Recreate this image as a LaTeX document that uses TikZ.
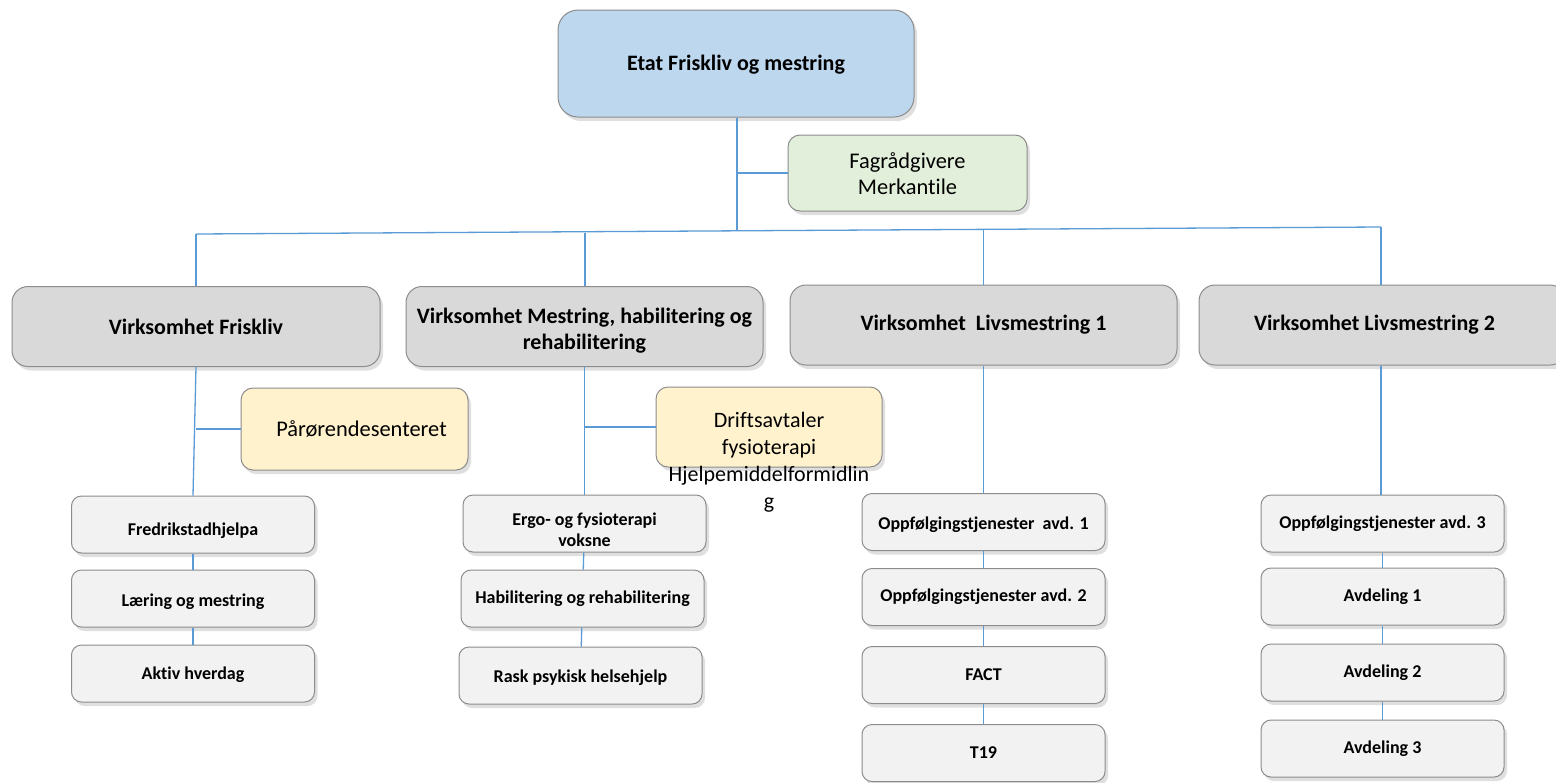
\documentclass[tikz,border=0pt]{standalone}
\usepackage{fontspec}
\setmainfont{Carlito}[Ligatures={NoCommon}]
\usepackage{tikz}
\usetikzlibrary{positioning, shadows}
\definecolor{linkblue}{HTML}{5B9BD5}
\definecolor{boxline}{HTML}{8C8C8C}
\definecolor{topfill}{HTML}{BDD7EE}
\definecolor{greenfill}{HTML}{E2EFDA}
\definecolor{yellowfill}{HTML}{FFF2CC}
\definecolor{greyfill}{HTML}{D9D9D9}
\definecolor{lightfill}{HTML}{F2F2F2}
% lower a text inside its box, the box keeps its size
\newcommand{\sunk}[2]{\raisebox{-#1}[\height][\depth]{\begin{tabular}{@{}c@{}}#2\end{tabular}}}
\tikzset{
	box/.style ={
		draw=boxline,
		line width=0.5pt,
		align = center,
		inner sep=1pt,
		drop shadow={shadow xshift=1.5pt, shadow yshift=-2pt, opacity=0.25},
	},
	etat/.append style={
		box,
		fill=topfill,
		rounded corners=10pt,
		minimum width=178pt,
		minimum height=53.5pt,
		font={\fontsize{11}{13}\selectfont\bfseries}
	},
	stab/.append style={
		box,
		rounded corners=6pt,
		minimum width=119.5pt,
		minimum height=38pt,
		font={\fontsize{11.2}{13}\selectfont}
	},
	virk/.append style={
		box,
		fill=greyfill,
		rounded corners=8pt,
		minimum height=40pt,
		font={\fontsize{11}{13}\selectfont\bfseries}
	},
	avd/.append style={
		box,
		fill=lightfill,
		rounded corners=5pt,
		minimum width=121.5pt,
		minimum height=28.5pt,
		font={\fontsize{9}{10.5}\selectfont\bfseries}
	},
	link/.append style={
		draw=linkblue,
		line width=0.65pt,
	}
}

\begin{document}
\begin{tikzpicture}[x=0.5pt, y=-0.5pt]
		\useasboundingbox[fill=white] (0,0) rectangle (1556,782);

		% etat and staff
		\node(etat)[etat] at (736,63.5) {\sunk{1pt}{Etat Friskliv og mestring}};
		\node(fag)[stab, fill=greenfill] at (907.5,173) {\sunk{1.5pt}{Fagrådgivere\\Merkantile}};

		% virksomheter
		\node(frisk)[virk, minimum width=184pt] at (196,326.5) {Virksomhet Friskliv};
		\node(mestr)[virk, minimum width=178.5pt] at (584.5,326.5) {\sunk{2.5pt}{Virksomhet Mestring, habilitering og\\rehabilitering}};
		\node(livs1)[virk, minimum width=193.5pt] at (983.5,325) {Virksomhet\ \ Livsmestring 1};
		\node(livs2)[virk, minimum width=183.5pt] at (1382.5,325) {\hspace*{-8pt}Virksomhet Livsmestring 2};

		% bus
		\coordinate(busL) at (196,234);
		\coordinate(busR) at (1381,227);
		\coordinate(busE) at (737,231);
		\coordinate(busM) at (585,232.5);
		\coordinate(busK) at (983.5,229.5);
		\coordinate(fagJ) at (737,173);

		\draw[link] (etat.south -| busE) -- (busE);
		\draw[link] (fagJ) -- (fag.west);
		\draw[link] (busL) -- (busR);
		\draw[link] (busL) -- (frisk.north -| busL);
		\draw[link] (busM) -- (mestr.north -| busM);
		\draw[link] (busK) -- (livs1.north -| busK);
		\draw[link] (busR) -- (livs2.north -| busR);

		% staff under virksomheter
		\node(paaro)[stab, fill=yellowfill, minimum width=113.5pt, minimum height=41pt] at (354.5,429) {\hspace*{7pt}Pårørendesenteret};
		\node(drift)[stab, fill=yellowfill, minimum width=113pt, minimum height=40pt] at (769,427) {};
		\node(drifttxt)[font={\fontsize{11}{13.5}\selectfont}, align=center, anchor=north, inner sep=0pt] at ([yshift=-12.5pt]drift.north) {Driftsavtaler\\fysioterapi\\Hjelpemiddelformidlin\\g};

		% Friskliv
		\node(fr1)[avd] at (193,524.5) {\sunk{3.5pt}{Fredrikstadhjelpa}};
		\node(fr2)[avd, below=8pt of fr1] {\sunk{2pt}{Læring og mestring}};
		\node(fr3)[avd, below=8.5pt of fr2] {\sunk{1pt}{Aktiv hverdag}};

		% Mestring
		\node(me1)[avd] at (584.5,523.5) {\sunk{4pt}{Ergo- og fysioterapi\\voksne}};
		\node(me2)[avd, below=8.5pt of me1, xshift=-1pt] {Habilitering og rehabilitering};
		\node(me3)[avd, below=9.5pt of me2, xshift=-1pt] {\sunk{1.5pt}{Rask psykisk helsehjelp}};

		% Livsmestring 1
		\node(li1)[avd] at (983.5,522) {\sunk{1.5pt}{Oppfølgingstjenester\ \ avd. 1}};
		\node(li2)[avd, below=8.5pt of li1] {Oppfølgingstjenester avd. 2};
		\node(li3)[avd, below=10pt of li2] {FACT};
		\node(li4)[avd, below=10pt of li3] {T19};

		% Livsmestring 2
		\node(lv1)[avd] at (1382.5,523.5) {Oppfølgingstjenester avd. 3};
		\node(lv2)[avd, below=7.5pt of lv1] {Avdeling 1};
		\node(lv3)[avd, below=9pt of lv2] {Avdeling 2};
		\node(lv4)[avd, below=9pt of lv3] {Avdeling 3};

		% connectors
		\draw[link] (frisk.south) -- (fr1.north);
		\draw[link] (frisk.south |- paaro.west) -- (paaro.west);
		\draw[link] (fr1) -- (fr2);
		\draw[link] (fr2) -- (fr3);
		\draw[link] (mestr.south) -- (me1.north);
		\draw[link] (mestr.south |- drift.west) -- (drift.west);
		\draw[link] (me1) -- (me2);
		\draw[link] (me2) -- (me3);
		\draw[link] (livs1.south -| busK) -- (li1.north);
		\draw[link] (li1) -- (li2);
		\draw[link] (li2) -- (li3);
		\draw[link] (li3) -- (li4);
		\draw[link] (livs2.south -| busR) -- (lv1.north -| busR);
		\draw[link] (lv1) -- (lv2);
		\draw[link] (lv2) -- (lv3);
		\draw[link] (lv3) -- (lv4);
		\end{tikzpicture}
\end{document}
